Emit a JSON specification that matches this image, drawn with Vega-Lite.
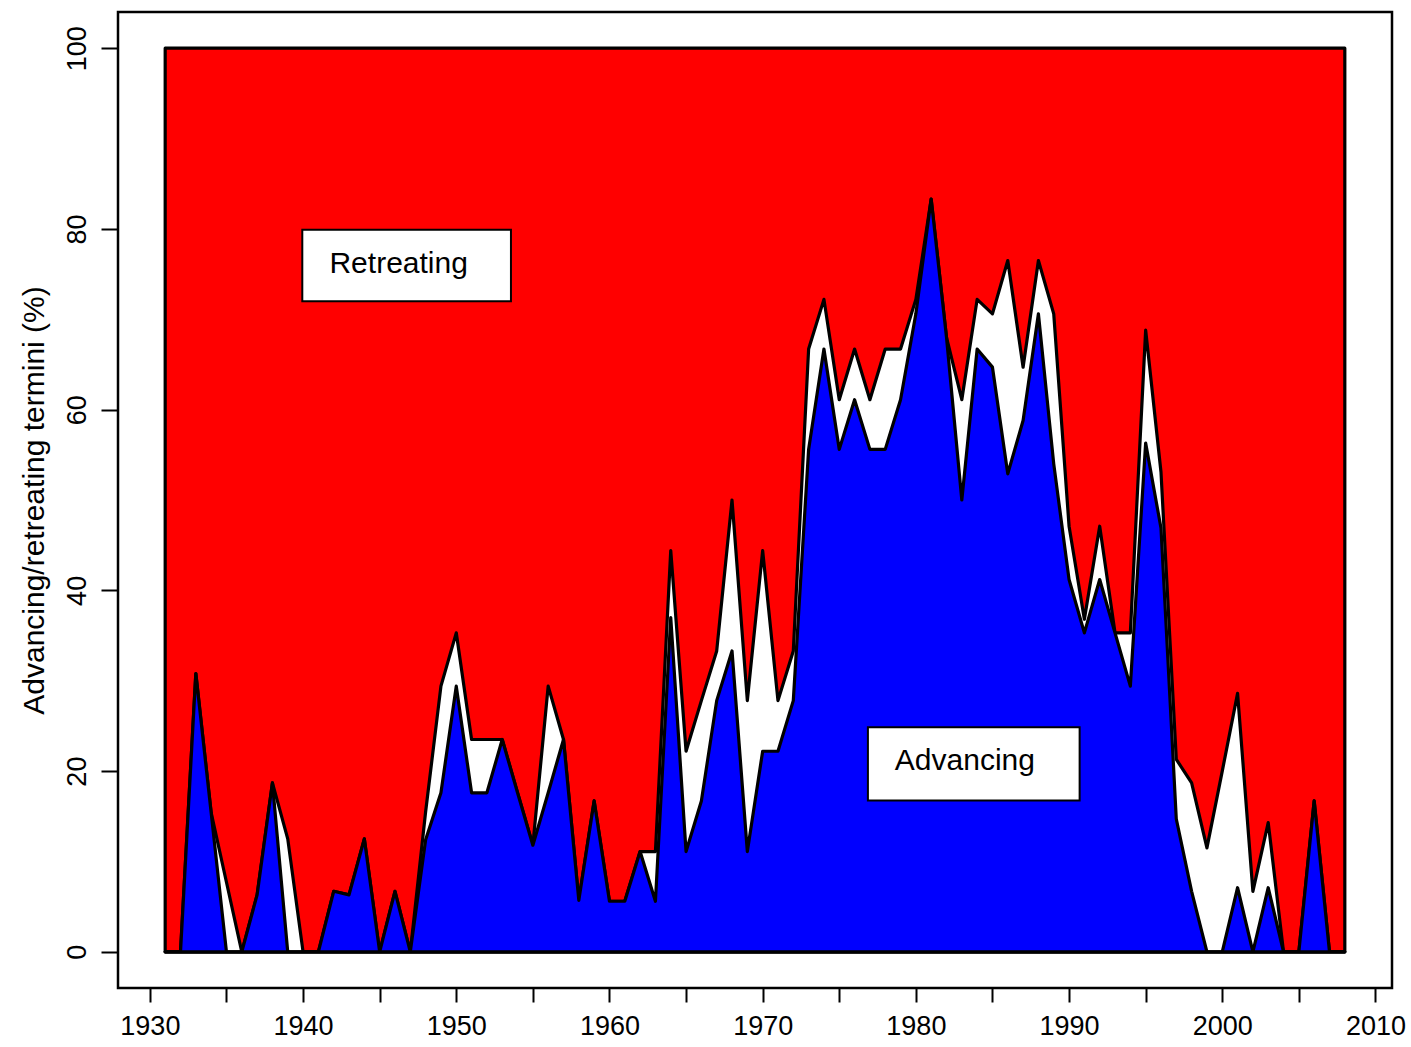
{
  "$schema": "https://vega.github.io/schema/vega-lite/v6.json",
  "width": 1274,
  "height": 976,
  "autosize": {"type": "none"},
  "padding": {"left": 118, "top": 12, "right": 19, "bottom": 59},
  "background": "white",
  "config": {
    "font": "Liberation Sans",
    "view": {"stroke": "black", "strokeWidth": 2.5},
    "axis": {"grid": false, "domain": false, "tickColor": "black", "tickWidth": 2, "labelColor": "black", "titleColor": "black", "labelFont": "Liberation Sans", "titleFont": "Liberation Sans", "titleFontWeight": "normal"}
  },
  "data": {
    "values": [
      {"year": 1931, "advancing": 0, "advancing_or_stationary": 0},
      {"year": 1932, "advancing": 0, "advancing_or_stationary": 0},
      {"year": 1933, "advancing": 30.8, "advancing_or_stationary": 30.8},
      {"year": 1934, "advancing": 15.4, "advancing_or_stationary": 15.4},
      {"year": 1935, "advancing": 0, "advancing_or_stationary": 7.7},
      {"year": 1936, "advancing": 0, "advancing_or_stationary": 0},
      {"year": 1937, "advancing": 6.3, "advancing_or_stationary": 6.3},
      {"year": 1938, "advancing": 18.7, "advancing_or_stationary": 18.7},
      {"year": 1939, "advancing": 0, "advancing_or_stationary": 12.5},
      {"year": 1940, "advancing": 0, "advancing_or_stationary": 0},
      {"year": 1941, "advancing": 0, "advancing_or_stationary": 0},
      {"year": 1942, "advancing": 6.7, "advancing_or_stationary": 6.7},
      {"year": 1943, "advancing": 6.3, "advancing_or_stationary": 6.3},
      {"year": 1944, "advancing": 12.5, "advancing_or_stationary": 12.5},
      {"year": 1945, "advancing": 0, "advancing_or_stationary": 0},
      {"year": 1946, "advancing": 6.7, "advancing_or_stationary": 6.7},
      {"year": 1947, "advancing": 0, "advancing_or_stationary": 0},
      {"year": 1948, "advancing": 12.4, "advancing_or_stationary": 15.5},
      {"year": 1949, "advancing": 17.6, "advancing_or_stationary": 29.4},
      {"year": 1950, "advancing": 29.4, "advancing_or_stationary": 35.3},
      {"year": 1951, "advancing": 17.6, "advancing_or_stationary": 23.5},
      {"year": 1952, "advancing": 17.6, "advancing_or_stationary": 23.5},
      {"year": 1953, "advancing": 23.5, "advancing_or_stationary": 23.5},
      {"year": 1954, "advancing": 17.6, "advancing_or_stationary": 17.6},
      {"year": 1955, "advancing": 11.8, "advancing_or_stationary": 11.8},
      {"year": 1956, "advancing": 17.6, "advancing_or_stationary": 29.4},
      {"year": 1957, "advancing": 23.5, "advancing_or_stationary": 23.5},
      {"year": 1958, "advancing": 5.7, "advancing_or_stationary": 5.7},
      {"year": 1959, "advancing": 16.7, "advancing_or_stationary": 16.7},
      {"year": 1960, "advancing": 5.6, "advancing_or_stationary": 5.6},
      {"year": 1961, "advancing": 5.6, "advancing_or_stationary": 5.6},
      {"year": 1962, "advancing": 11.1, "advancing_or_stationary": 11.1},
      {"year": 1963, "advancing": 5.6, "advancing_or_stationary": 11.1},
      {"year": 1964, "advancing": 37, "advancing_or_stationary": 44.4},
      {"year": 1965, "advancing": 11.1, "advancing_or_stationary": 22.2},
      {"year": 1966, "advancing": 16.7, "advancing_or_stationary": 27.8},
      {"year": 1967, "advancing": 27.8, "advancing_or_stationary": 33.3},
      {"year": 1968, "advancing": 33.3, "advancing_or_stationary": 50},
      {"year": 1969, "advancing": 11.1, "advancing_or_stationary": 27.8},
      {"year": 1970, "advancing": 22.2, "advancing_or_stationary": 44.4},
      {"year": 1971, "advancing": 22.2, "advancing_or_stationary": 27.8},
      {"year": 1972, "advancing": 27.8, "advancing_or_stationary": 33.3},
      {"year": 1973, "advancing": 55.6, "advancing_or_stationary": 66.7},
      {"year": 1974, "advancing": 66.7, "advancing_or_stationary": 72.2},
      {"year": 1975, "advancing": 55.6, "advancing_or_stationary": 61.1},
      {"year": 1976, "advancing": 61.1, "advancing_or_stationary": 66.7},
      {"year": 1977, "advancing": 55.6, "advancing_or_stationary": 61.1},
      {"year": 1978, "advancing": 55.6, "advancing_or_stationary": 66.7},
      {"year": 1979, "advancing": 61.1, "advancing_or_stationary": 66.7},
      {"year": 1980, "advancing": 70.6, "advancing_or_stationary": 72.2},
      {"year": 1981, "advancing": 83.3, "advancing_or_stationary": 83.3},
      {"year": 1982, "advancing": 68, "advancing_or_stationary": 68},
      {"year": 1983, "advancing": 50, "advancing_or_stationary": 61.1},
      {"year": 1984, "advancing": 66.7, "advancing_or_stationary": 72.2},
      {"year": 1985, "advancing": 64.7, "advancing_or_stationary": 70.6},
      {"year": 1986, "advancing": 52.9, "advancing_or_stationary": 76.5},
      {"year": 1987, "advancing": 58.8, "advancing_or_stationary": 64.7},
      {"year": 1988, "advancing": 70.6, "advancing_or_stationary": 76.5},
      {"year": 1989, "advancing": 54, "advancing_or_stationary": 70.6},
      {"year": 1990, "advancing": 41.2, "advancing_or_stationary": 47.1},
      {"year": 1991, "advancing": 35.3, "advancing_or_stationary": 36.8},
      {"year": 1992, "advancing": 41.2, "advancing_or_stationary": 47.1},
      {"year": 1993, "advancing": 35.3, "advancing_or_stationary": 35.3},
      {"year": 1994, "advancing": 29.4, "advancing_or_stationary": 35.3},
      {"year": 1995, "advancing": 56.3, "advancing_or_stationary": 68.8},
      {"year": 1996, "advancing": 46.9, "advancing_or_stationary": 53.1},
      {"year": 1997, "advancing": 14.7, "advancing_or_stationary": 21.3},
      {"year": 1998, "advancing": 6.7, "advancing_or_stationary": 18.7},
      {"year": 1999, "advancing": 0, "advancing_or_stationary": 11.5},
      {"year": 2000, "advancing": 0, "advancing_or_stationary": 20},
      {"year": 2001, "advancing": 7.1, "advancing_or_stationary": 28.6},
      {"year": 2002, "advancing": 0, "advancing_or_stationary": 6.7},
      {"year": 2003, "advancing": 7.1, "advancing_or_stationary": 14.3},
      {"year": 2004, "advancing": 0, "advancing_or_stationary": 0},
      {"year": 2005, "advancing": 0, "advancing_or_stationary": 0},
      {"year": 2006, "advancing": 16.7, "advancing_or_stationary": 16.7},
      {"year": 2007, "advancing": 0, "advancing_or_stationary": 0},
      {"year": 2008, "advancing": 0, "advancing_or_stationary": 0}
    ]
  },
  "layer": [
    {
      "mark": {"type": "area", "fill": "#ff0000", "stroke": "black", "strokeWidth": 3.2, "strokeJoin": "round"},
      "encoding": {
        "x": {
          "field": "year", "type": "quantitative",
          "scale": {"domain": [1927.92, 2011.08], "nice": false, "zero": false},
          "axis": {
            "values": [1930, 1935, 1940, 1945, 1950, 1955, 1960, 1965, 1970, 1975, 1980, 1985, 1990, 1995, 2000, 2005, 2010],
            "format": "d",
            "labelExpr": "datum.value % 10 == 0 ? datum.label : ''",
            "tickSize": 14, "labelFontSize": 27, "labelPadding": 11, "title": null
          }
        },
        "y": {
          "datum": 100, "type": "quantitative",
          "scale": {"domain": [-4, 104], "nice": false, "zero": false},
          "axis": {
            "values": [0, 20, 40, 60, 80, 100],
            "labelAngle": -90, "labelAlign": "center", "labelBaseline": "bottom",
            "tickSize": 17, "labelFontSize": 27, "labelPadding": 10,
            "title": "Advancing/retreating termini (%)", "titleFontSize": 30, "titlePadding": 14
          }
        },
        "y2": {"datum": 0}
      }
    },
    {
      "mark": {"type": "area", "fill": "white", "stroke": "black", "strokeWidth": 3.2, "strokeJoin": "round"},
      "encoding": {
        "x": {"field": "year", "type": "quantitative"},
        "y": {"field": "advancing_or_stationary", "type": "quantitative"},
        "y2": {"datum": 0}
      }
    },
    {
      "mark": {"type": "area", "fill": "#0000ff", "stroke": "black", "strokeWidth": 3.2, "strokeJoin": "round"},
      "encoding": {
        "x": {"field": "year", "type": "quantitative"},
        "y": {"field": "advancing", "type": "quantitative"},
        "y2": {"datum": 0}
      }
    },
    {
      "data": {"values": [{"label": "Retreating"}]},
      "mark": {"type": "rect", "fill": "white", "stroke": "black", "strokeWidth": 2},
      "encoding": {
        "x": {"datum": 1939.95, "type": "quantitative"},
        "x2": {"datum": 1953.57},
        "y": {"datum": 79.9, "type": "quantitative"},
        "y2": {"datum": 72.0}
      }
    },
    {
      "data": {"values": [{"label": "Retreating"}]},
      "mark": {"type": "text", "fontSize": 30, "color": "black", "align": "center", "baseline": "middle"},
      "encoding": {
        "x": {"datum": 1946.24, "type": "quantitative"},
        "y": {"datum": 76.1, "type": "quantitative"},
        "text": {"field": "label"}
      }
    },
    {
      "data": {"values": [{"label": "Advancing"}]},
      "mark": {"type": "rect", "fill": "white", "stroke": "black", "strokeWidth": 2},
      "encoding": {
        "x": {"datum": 1976.87, "type": "quantitative"},
        "x2": {"datum": 1990.69},
        "y": {"datum": 24.86, "type": "quantitative"},
        "y2": {"datum": 16.76}
      }
    },
    {
      "data": {"values": [{"label": "Advancing"}]},
      "mark": {"type": "text", "fontSize": 30, "color": "black", "align": "center", "baseline": "middle"},
      "encoding": {
        "x": {"datum": 1983.2, "type": "quantitative"},
        "y": {"datum": 21.1, "type": "quantitative"},
        "text": {"field": "label"}
      }
    }
  ]
}
